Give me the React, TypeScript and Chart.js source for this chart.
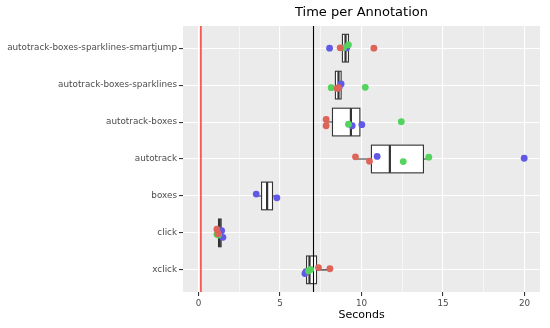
import React, { useEffect, useRef } from 'react';
import { Chart, registerables } from 'chart.js';

Chart.register(...registerables);

const FONT = 'DejaVu Sans';

// Categories from top to bottom
const categories = [
  'autotrack-boxes-sparklines-smartjump',
  'autotrack-boxes-sparklines',
  'autotrack-boxes',
  'autotrack',
  'boxes',
  'click',
  'xclick',
];

// Box-plot statistics per category (seconds)
const whiskerLow = [8.83, 8.4, 7.83, 9.63, 3.54, 1.15, 6.53];
const quartile1 = [8.83, 8.4, 8.22, 10.61, 3.87, 1.23, 6.63];
const medians = [9.02, 8.59, 9.35, 11.74, 4.21, 1.3, 6.81];
const quartile3 = [9.2, 8.75, 9.9, 13.8, 4.54, 1.39, 7.24];
const whiskerHigh = [9.2, 8.75, 10.02, 14.11, 4.81, 1.5, 8.06];

// Jittered observations, per colour group
const redValues = [8.69, 10.76, 8.5, 8.6, 7.83, 7.83, 9.63, 10.49, 1.13, 1.2, 7.36, 8.06];
const redGroups = [0, 0, 1, 1, 2, 2, 3, 3, 5, 5, 6, 6];
const redJitter = [-0.01, 0.0, 0.09, 0.07, -0.07, 0.1, -0.06, 0.06, -0.1, 0.02, -0.06, -0.03];

const greenValues = [8.9, 9.2, 8.14, 10.23, 9.2, 12.44, 12.56, 14.13, 1.13, 1.22, 6.75, 6.88];
const greenGroups = [0, 0, 1, 1, 2, 2, 3, 3, 5, 5, 6, 6];
const greenJitter = [-0.01, -0.09, 0.07, 0.06, 0.06, -0.01, 0.07, -0.05, 0.04, 0.06, 0.03, -0.01];

const blueValues = [8.04, 9.1, 8.63, 8.75, 9.43, 10.02, 10.96, 19.98, 3.54, 4.81, 1.42, 1.5, 6.53, 6.6];
const blueGroups = [0, 0, 1, 1, 2, 2, 3, 3, 4, 4, 5, 5, 6, 6];
const blueJitter = [0.0, -0.01, 0.06, -0.03, 0.1, 0.07, -0.07, -0.02, -0.05, 0.05, -0.06, 0.12, 0.1, 0.05];

// Reference lines
const redLineValue = 0.15;
const blackLineValue = 7.02;

// Axis ticks
const xGridTicks = [0, 2.5, 5, 7.5, 10, 12.5, 15, 17.5, 20];
const xLabelTicks = [0, 5, 10, 15, 20];
const xMin = -0.95;
const xMax = 20.95;
const yMin = -0.6;
const yMax = 6.6;
const boxHalfWidth = 0.375;

const COLORS = {
  red: 'rgb(222,99,88)',
  green: 'rgb(84,211,94)',
  blue: 'rgb(96,89,230)',
};

function points(values: number[], groups: number[], jitter: number[]) {
  return values.map((v, i) => ({ x: v, y: groups[i] + jitter[i] }));
}

const panelPlugin = {
  id: 'panel',
  beforeDraw(chart: any) {
    const { ctx, chartArea } = chart;
    ctx.save();
    ctx.fillStyle = '#EBEBEB';
    ctx.fillRect(chartArea.left, chartArea.top, chartArea.right - chartArea.left, chartArea.bottom - chartArea.top);
    ctx.restore();
  },
  beforeDatasetsDraw(chart: any) {
    const { ctx, chartArea, scales } = chart;
    const xs = scales.x;
    const ys = scales.y;
    ctx.save();
    ctx.beginPath();
    ctx.rect(chartArea.left, chartArea.top, chartArea.right - chartArea.left, chartArea.bottom - chartArea.top);
    ctx.clip();
    categories.forEach((_, i) => {
      const yc = ys.getPixelForValue(i);
      const yt = ys.getPixelForValue(i - boxHalfWidth);
      const yb = ys.getPixelForValue(i + boxHalfWidth);
      const top = Math.min(yt, yb);
      const h = Math.abs(yb - yt);
      const xl = xs.getPixelForValue(whiskerLow[i]);
      const x1 = xs.getPixelForValue(quartile1[i]);
      const xm = xs.getPixelForValue(medians[i]);
      const x3 = xs.getPixelForValue(quartile3[i]);
      const xh = xs.getPixelForValue(whiskerHigh[i]);
      ctx.strokeStyle = '#333333';
      ctx.lineWidth = 1.1;
      ctx.beginPath();
      ctx.moveTo(xl, yc);
      ctx.lineTo(x1, yc);
      ctx.moveTo(x3, yc);
      ctx.lineTo(xh, yc);
      ctx.stroke();
      ctx.fillStyle = '#FFFFFF';
      ctx.fillRect(x1, top, x3 - x1, h);
      ctx.strokeRect(x1, top, x3 - x1, h);
      ctx.lineWidth = 2.2;
      ctx.beginPath();
      ctx.moveTo(xm, top);
      ctx.lineTo(xm, top + h);
      ctx.stroke();
    });
    const drawV = (v: number, color: string, snap: boolean) => {
      const raw = xs.getPixelForValue(v);
      const x = snap ? Math.round(raw) + 0.5 : raw;
      ctx.strokeStyle = color;
      ctx.lineWidth = 1.1;
      ctx.beginPath();
      ctx.moveTo(x, chartArea.top);
      ctx.lineTo(x, chartArea.bottom);
      ctx.stroke();
    };
    drawV(redLineValue, '#FF0000', false);
    drawV(blackLineValue, '#000000', true);
    ctx.restore();
  },
  afterDraw(chart: any) {
    const { ctx, chartArea } = chart;
    ctx.save();
    ctx.fillStyle = '#000000';
    ctx.font = `13px "${FONT}"`;
    ctx.textAlign = 'center';
    ctx.textBaseline = 'middle';
    ctx.fillText('Time per Annotation', (chartArea.left + chartArea.right) / 2, 13);
    ctx.restore();
  },
};

export default function App() {
  const canvasRef = useRef<HTMLCanvasElement | null>(null);

  useEffect(() => {
    if (!canvasRef.current) return;
    const chart = new Chart(canvasRef.current, {
      type: 'scatter',
      data: {
        datasets: [
          { data: points(redValues, redGroups, redJitter), backgroundColor: COLORS.red },
          { data: points(greenValues, greenGroups, greenJitter), backgroundColor: COLORS.green },
          { data: points(blueValues, blueGroups, blueJitter), backgroundColor: COLORS.blue },
        ].map((d) => ({ ...d, pointRadius: 3.4, borderWidth: 0, pointHoverRadius: 3.4 })),
      },
      options: {
        animation: false,
        responsive: false,
        devicePixelRatio: 1,
        layout: { padding: { top: 26, right: 10, left: 0, bottom: 0 } },
        plugins: { legend: { display: false }, tooltip: { enabled: false }, title: { display: false } },
        scales: {
          x: {
            type: 'linear',
            min: xMin,
            max: xMax,
            afterBuildTicks: (s: any) => {
              s.ticks = xGridTicks.map((v) => ({ value: v }));
            },
            afterFit: (s: any) => {
              s.height = 36;
            },
            ticks: {
              autoSkip: false,
              maxRotation: 0,
              padding: 2,
              color: '#4D4D4D',
              font: { family: FONT, size: 8.8 },
              callback: (v: any) => (xLabelTicks.includes(Number(v)) ? String(v) : ''),
            },
            grid: {
              color: '#FFFFFF',
              lineWidth: (c: any) => (xLabelTicks.includes(c.tick?.value) ? 1.1 : 0.55),
              tickColor: (c: any) => (xLabelTicks.includes(c.tick?.value) ? '#333333' : 'rgba(0,0,0,0)'),
              tickLength: 4,
              drawTicks: true,
            },
            border: { display: false },
            title: {
              display: true,
              text: 'Seconds',
              color: '#000000',
              font: { family: FONT, size: 11 },
              padding: { top: 0, bottom: 6 },
            },
          },
          y: {
            type: 'linear',
            reverse: true,
            min: yMin,
            max: yMax,
            afterBuildTicks: (s: any) => {
              s.ticks = categories.map((_, i) => ({ value: i }));
            },
            afterFit: (s: any) => {
              s.width = 183;
            },
            ticks: {
              autoSkip: false,
              padding: 2,
              color: '#4D4D4D',
              font: { family: FONT, size: 8.8 },
              callback: (v: any) => categories[Number(v)] ?? '',
            },
            grid: {
              color: '#FFFFFF',
              lineWidth: 1.1,
              tickColor: '#333333',
              tickLength: 4,
              drawTicks: true,
            },
            border: { display: false },
          },
        },
      } as any,
      plugins: [panelPlugin],
    });
    return () => chart.destroy();
  }, []);

  return (
    <canvas
      ref={canvasRef}
      width={550}
      height={328}
      style={{ position: 'fixed', left: 0, top: 0, width: 550, height: 328 }}
    />
  );
}
